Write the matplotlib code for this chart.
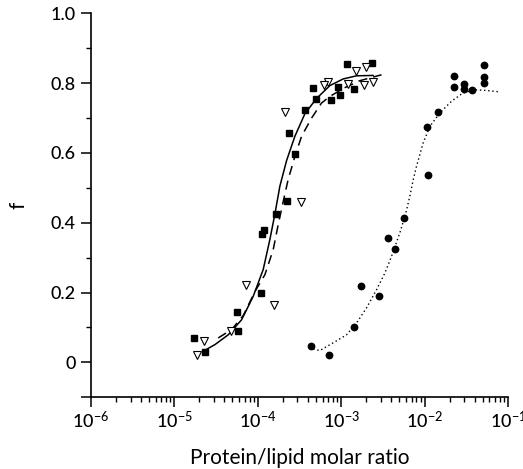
import numpy as np
import matplotlib
matplotlib.use('Agg')
import matplotlib.pyplot as plt
from matplotlib.ticker import LogLocator, FixedLocator, FuncFormatter, NullFormatter

plt.rcParams['font.family'] = ['Lato', 'DejaVu Sans']
plt.rcParams['font.weight'] = 'medium'
plt.rcParams['mathtext.fontset'] = 'custom'
plt.rcParams['mathtext.rm'] = 'Lato'
plt.rcParams['mathtext.it'] = 'Lato:italic'

# filled squares
sq_x = [1.18e-3, 2.38e-3, 4.56e-4, 9.08e-4, 1.41e-3, 9.68e-4, 7.48e-4, 5.04e-4, 3.68e-4, 2.39e-4,
        2.77e-4, 2.24e-4, 1.66e-4, 1.19e-4, 1.12e-4, 1.10e-4, 5.70e-5, 5.86e-5, 1.74e-5, 2.34e-5]
sq_f = [0.855, 0.858, 0.786, 0.789, 0.784, 0.765, 0.753, 0.755, 0.722, 0.656,
        0.598, 0.462, 0.424, 0.380, 0.368, 0.199, 0.145, 0.089, 0.069, 0.029]

# open triangles
tri_x = [1.49e-3, 2.00e-3, 2.43e-3, 1.86e-3, 1.20e-3, 7.02e-4, 6.17e-4, 2.14e-4, 3.33e-4, 7.18e-5,
         1.57e-4, 4.79e-5, 2.28e-5, 1.87e-5]
tri_f = [0.836, 0.845, 0.803, 0.796, 0.797, 0.804, 0.794, 0.716, 0.460, 0.223,
         0.163, 0.089, 0.061, 0.021]

# filled circles
ci_x = [5.13e-2, 5.13e-2, 5.13e-2, 2.24e-2, 2.24e-2, 2.96e-2, 2.96e-2, 3.72e-2, 1.46e-2, 1.07e-2,
        1.10e-2, 5.75e-3, 3.66e-3, 4.37e-3, 1.73e-3, 2.81e-3, 1.44e-3, 4.32e-4, 7.14e-4]
ci_f = [0.851, 0.817, 0.800, 0.820, 0.789, 0.798, 0.783, 0.781, 0.717, 0.674,
        0.538, 0.413, 0.356, 0.326, 0.220, 0.189, 0.101, 0.046, 0.022]

# fitted curves (log10 of ratio, f)
solid_lx = [-4.651, -4.511, -4.352, -4.192, -4.053, -3.933, -3.853, -3.793, -3.733, -3.653,
            -3.553, -3.434, -3.298, -3.134, -2.975, -2.814, -2.616]
solid_f = [0.032, 0.051, 0.079, 0.122, 0.189, 0.266, 0.352, 0.425, 0.505, 0.578,
           0.648, 0.712, 0.755, 0.793, 0.812, 0.821, 0.822]

dash_lx = [-4.472, -4.311, -4.17, -4.032, -3.913, -3.813, -3.753, -3.693, -3.634, -3.553,
           -3.473, -3.353, -3.234, -3.134, -2.955, -2.775, -2.515]
dash_f = [0.070, 0.094, 0.135, 0.203, 0.251, 0.323, 0.395, 0.461, 0.524, 0.590,
          0.648, 0.700, 0.743, 0.762, 0.787, 0.807, 0.824]

dot_lx = [-3.334, -3.254, -3.095, -2.934, -2.814, -2.695, -2.575, -2.475, -2.395, -2.296,
          -2.224, -2.176, -2.136, -2.096, -2.016, -1.936, -1.816, -1.677, -1.538, -1.398,
          -1.258, -1.098]
dot_f = [0.038, 0.034, 0.056, 0.079, 0.113, 0.156, 0.208, 0.256, 0.304, 0.371,
         0.428, 0.476, 0.523, 0.562, 0.629, 0.676, 0.715, 0.748, 0.772, 0.781,
         0.779, 0.775]

y_ticks = [-0.1, 0, 0.2, 0.4, 0.6, 0.8, 1.0]
y_labels = ['', '0', '0.2', '0.4', '0.6', '0.8', '1.0']

fig = plt.figure(figsize=(5.23, 4.69), dpi=100)
ax = fig.add_axes([0.1734, 0.1529, 0.7979, 0.8187])

ax.plot(10 ** np.array(solid_lx), solid_f, '-', color='black', lw=1.1)
ax.plot(10 ** np.array(dash_lx), dash_f, color='black', lw=1.1, dashes=(6, 4))
ax.plot(10 ** np.array(dot_lx), dot_f, color='black', lw=1.0, linestyle=(0, (1, 2)))

ax.plot(sq_x, sq_f, 's', color='black', ms=4.2, ls='none', zorder=3)
ax.plot(tri_x, tri_f, 'v', mfc='white', mec='black', mew=0.8, ms=5.2, ls='none', zorder=3)
ax.plot(ci_x, ci_f, 'o', color='black', ms=4.6, ls='none', zorder=3)

ax.set_xscale('log')
ax.set_xlim(1e-6, 1e-1)
ax.set_ylim(-0.1, 1.0)

ax.xaxis.set_major_locator(LogLocator(base=10, numticks=10))
ax.xaxis.set_minor_locator(LogLocator(base=10, subs=np.arange(2, 10), numticks=20))
ax.xaxis.set_major_formatter(FuncFormatter(lambda v, p: r'$\mathregular{10^{%d}}$' % round(np.log10(v))))
ax.xaxis.set_minor_formatter(NullFormatter())

ax.set_yticks(y_ticks)
ax.set_yticklabels(y_labels)
ax.yaxis.set_minor_locator(FixedLocator([0.1, 0.3, 0.5, 0.7, 0.9]))

for s in ['top', 'right']:
    ax.spines[s].set_visible(False)
for s in ['left', 'bottom']:
    ax.spines[s].set_linewidth(1.2)

ax.tick_params(which='major', direction='out', length=7, width=1.1, labelsize=13, pad=4)
ax.tick_params(axis='x', which='major', pad=2)
ax.tick_params(which='minor', direction='out', length=3.5, width=1.0)

ax.set_xlabel('Protein/lipid molar ratio', fontsize=15, labelpad=12)
ax.set_ylabel('f', fontsize=15, labelpad=16)

fig.savefig('out.png', dpi=100)
